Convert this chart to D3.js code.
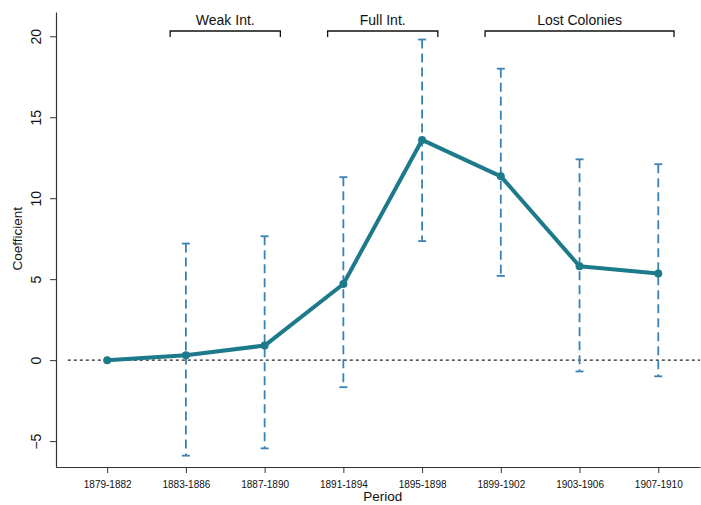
<!DOCTYPE html>
<html>
<head>
<meta charset="utf-8">
<script src="https://cdn.jsdelivr.net/npm/d3@7"></script>
<style>
  html, body { margin: 0; padding: 0; background: #fff; }
  svg { display: block; font-family: "Liberation Sans", Arial, Helvetica, sans-serif; }
</style>
</head>
<body>
<svg id="chart" width="701" height="505"></svg>
<script>
// Periods and estimated coefficients with 95% confidence bounds
const periods = ["1879-1882", "1883-1886", "1887-1890", "1891-1894", "1895-1898", "1899-1902", "1903-1906", "1907-1910"];
const coef    = [0, 0.3, 0.9, 4.7, 13.6, 11.35, 5.8, 5.35];
const ciLow   = [null, -5.9, -5.45, -1.67, 7.35, 5.2, -0.7, -1.0];
const ciHigh  = [null, 7.2, 7.65, 11.3, 19.8, 18.0, 12.4, 12.1];
const yTicks  = [-5, 0, 5, 10, 15, 20];

// Era brackets across the top (first and last period index covered)
const eraNames = ["Weak Int.", "Full Int.", "Lost Colonies"];
const eraStart = [1, 3, 5];
const eraEnd   = [2, 4, 7];

const svg = d3.select("#chart");
const lineColor = "#1d7a8b";
const ciColor = "#3a82b5";

const x = d3.scaleLinear().domain([-0.65, 7.53]).range([56, 700]);
const y = d3.scaleLinear().domain([-6.6, 21.5]).range([467, 12]);

// Axes
const xAxis = d3.axisBottom(x).tickValues(d3.range(periods.length))
  .tickFormat(i => periods[i]).tickSize(6).tickSizeOuter(0);
const gx = svg.append("g").attr("transform", `translate(0,${y(-6.6)})`).call(xAxis);
gx.select(".domain").attr("stroke", "#333").attr("stroke-width", 1.2);
gx.selectAll(".tick line").attr("stroke", "#333");
gx.selectAll(".tick text").attr("font-size", 10).attr("fill", "#111").attr("dy", "1.2em");

const yAxis = d3.axisLeft(y).tickValues(yTicks).tickSize(6).tickSizeOuter(0);
const gy = svg.append("g").attr("transform", `translate(${x(-0.65)},0)`).call(yAxis);
gy.select(".domain").attr("stroke", "#333").attr("stroke-width", 1.2);
gy.selectAll(".tick line").attr("stroke", "#333");
gy.selectAll(".tick text")
  .attr("font-size", 14).attr("fill", "#111")
  .attr("x", null).attr("dy", null)
  .attr("text-anchor", "middle")
  .attr("transform", "translate(-15,0) rotate(-90)");

// Axis titles
svg.append("text").attr("x", x(3.5)).attr("y", 501)
  .attr("text-anchor", "middle").attr("font-size", 13.5).attr("fill", "#111").text("Period");
svg.append("text").attr("transform", `translate(22,${y(7.5)}) rotate(-90)`)
  .attr("text-anchor", "middle").attr("font-size", 13.5).attr("fill", "#111").text("Coefficient");

// Zero reference line
svg.append("line")
  .attr("x1", x(-0.5)).attr("x2", x(7.53))
  .attr("y1", y(0)).attr("y2", y(0))
  .attr("stroke", "#222").attr("stroke-width", 1.4).attr("stroke-dasharray", "3,3");

// Confidence intervals
const ciData = d3.range(periods.length).filter(i => ciLow[i] !== null);
const ci = svg.append("g");
ci.selectAll("line.ci").data(ciData).join("line")
  .attr("class", "ci")
  .attr("x1", i => x(i)).attr("x2", i => x(i))
  .attr("y1", i => y(ciHigh[i])).attr("y2", i => y(ciLow[i]))
  .attr("stroke", ciColor).attr("stroke-width", 1.8).attr("stroke-dasharray", "9,5");
ci.selectAll("line.capHi").data(ciData).join("line")
  .attr("x1", i => x(i) - 4).attr("x2", i => x(i) + 4)
  .attr("y1", i => y(ciHigh[i])).attr("y2", i => y(ciHigh[i]))
  .attr("stroke", ciColor).attr("stroke-width", 1.8);
ci.selectAll("line.capLo").data(ciData).join("line")
  .attr("x1", i => x(i) - 4).attr("x2", i => x(i) + 4)
  .attr("y1", i => y(ciLow[i])).attr("y2", i => y(ciLow[i]))
  .attr("stroke", ciColor).attr("stroke-width", 1.8);

// Coefficient line and markers
const line = d3.line().x((d, i) => x(i)).y(d => y(d));
svg.append("path").datum(coef)
  .attr("d", line).attr("fill", "none")
  .attr("stroke", lineColor).attr("stroke-width", 4).attr("stroke-linejoin", "round");
svg.selectAll("circle.pt").data(coef).join("circle")
  .attr("cx", (d, i) => x(i)).attr("cy", d => y(d)).attr("r", 4)
  .attr("fill", lineColor);

// Era brackets
const brTop = 31, brDrop = 6;
eraNames.forEach((name, k) => {
  const x0 = x(eraStart[k] - 0.2), x1 = x(eraEnd[k] + 0.2);
  svg.append("path")
    .attr("d", `M${x0},${brTop + brDrop}V${brTop}H${x1}V${brTop + brDrop}`)
    .attr("fill", "none").attr("stroke", "#111").attr("stroke-width", 1.3);
  svg.append("text").attr("x", (x0 + x1) / 2).attr("y", 25)
    .attr("text-anchor", "middle").attr("font-size", 14).attr("fill", "#111").text(name);
});
</script>
</body>
</html>
